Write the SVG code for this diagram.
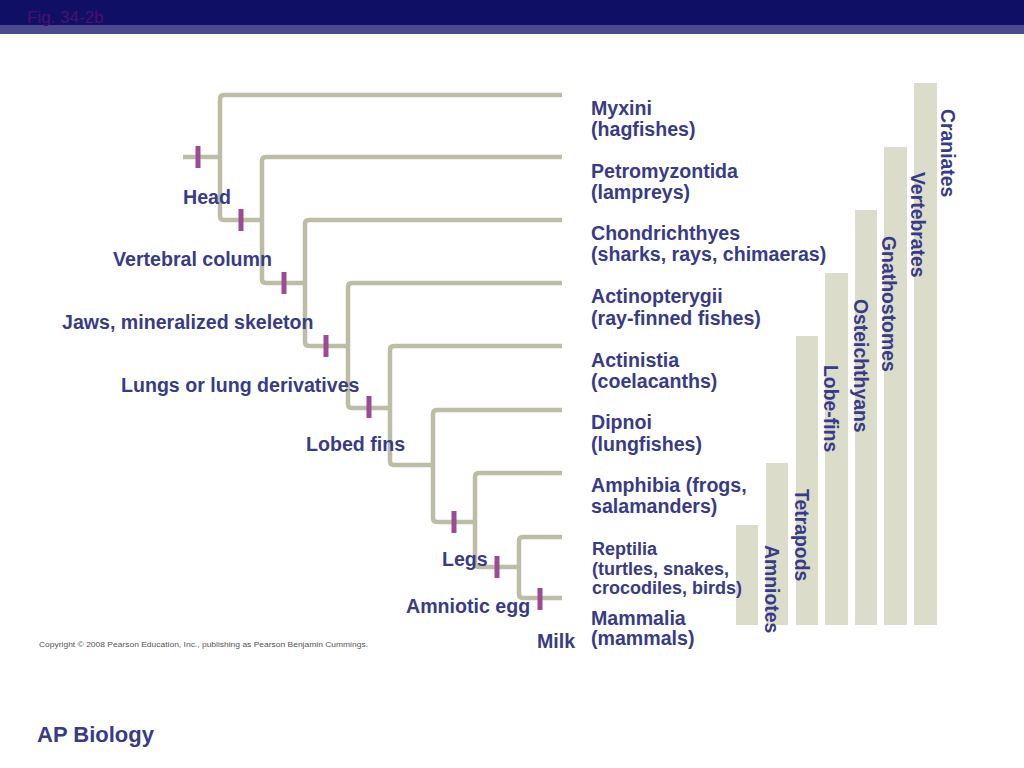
<svg xmlns="http://www.w3.org/2000/svg" width="1024" height="768" viewBox="0 0 1024 768">
<style>
.br{fill:none;stroke:#bdbda5;stroke-width:4.5;stroke-linecap:butt;stroke-linejoin:round}
.tk{stroke:#9b4a93;stroke-width:5}
.bar{fill:#dcdccb}
.t{font-family:"Liberation Sans",Arial,sans-serif;font-weight:bold;font-size:19.6px;fill:#383b87}
.s{font-size:18px}
.v{font-size:19.4px}
.cp{font-family:"Liberation Sans",Arial,sans-serif;font-size:8px;fill:#555555}
</style>
<rect x="0" y="0" width="1024" height="768" fill="#ffffff"/>
<g id="header">
<rect x="0" y="0" width="1024" height="25" fill="#0f0f66"/>
<rect x="0" y="25" width="1024" height="9" fill="#4b4b8c"/>
<text x="27" y="23" font-family="Liberation Sans, Arial, sans-serif" font-size="17" fill="#4a126e">Fig. 34-2b</text>
</g>
<g id="clade-bars">
<rect class="bar" x="736" y="525" width="22" height="100"/>
<rect class="bar" x="766" y="463" width="22" height="162"/>
<rect class="bar" x="796" y="336" width="22" height="289"/>
<rect class="bar" x="825" y="273" width="23" height="352"/>
<rect class="bar" x="855" y="210" width="22" height="415"/>
<rect class="bar" x="884" y="147" width="23" height="478"/>
<rect class="bar" x="914" y="83" width="23" height="542"/>
</g>
<g id="connectors">
<path class="br" d="M183 157H220"/>
<path class="br" d="M562 95H224Q220 95 220 99V216Q220 220 224 220H262"/>
<path class="br" d="M562 157H266Q262 157 262 161V279Q262 283 266 283H305"/>
<path class="br" d="M562 220H309Q305 220 305 224V342Q305 346 309 346H348"/>
<path class="br" d="M562 283H352Q348 283 348 287V404Q348 408 352 408H390"/>
<path class="br" d="M562 346H394Q390 346 390 350V461Q390 465 394 465H433"/>
<path class="br" d="M562 410H437Q433 410 433 414V518Q433 522 437 522H475"/>
<path class="br" d="M562 473H479Q475 473 475 477V563Q475 567 479 567H519"/>
<path class="br" d="M562 537H523Q519 537 519 541V594Q519 598 523 598H562"/>
</g>
<g id="ticks">
<line class="tk" x1="198" y1="146" x2="198" y2="168"/>
<line class="tk" x1="241" y1="209" x2="241" y2="231"/>
<line class="tk" x1="284" y1="272" x2="284" y2="294"/>
<line class="tk" x1="326" y1="335" x2="326" y2="357"/>
<line class="tk" x1="369" y1="396" x2="369" y2="418"/>
<line class="tk" x1="454" y1="511" x2="454" y2="533"/>
<line class="tk" x1="497" y1="556" x2="497" y2="578"/>
<line class="tk" x1="540" y1="588" x2="540" y2="610"/>
</g>
<g id="character-labels">
<text class="t" x="183" y="204">Head</text>
<text class="t" x="113" y="266">Vertebral column</text>
<text class="t" x="62" y="329">Jaws, mineralized skeleton</text>
<text class="t" x="121" y="392">Lungs or lung derivatives</text>
<text class="t" x="306" y="451">Lobed fins</text>
<text class="t" x="442" y="566">Legs</text>
<text class="t" x="406" y="613">Amniotic egg</text>
<text class="t" x="537" y="648">Milk</text>
</g>
<g id="taxon-myxini"><text class="t" x="591" y="115">Myxini</text><text class="t" x="591" y="136">(hagfishes)</text></g>
<g id="taxon-petromyzontida"><text class="t" x="591" y="178">Petromyzontida</text><text class="t" x="591" y="199">(lampreys)</text></g>
<g id="taxon-chondrichthyes"><text class="t" x="591" y="240">Chondrichthyes</text><text class="t" x="591" y="261">(sharks, rays, chimaeras)</text></g>
<g id="taxon-actinopterygii"><text class="t" x="591" y="303">Actinopterygii</text><text class="t" x="591" y="325">(ray-finned fishes)</text></g>
<g id="taxon-actinistia"><text class="t" x="591" y="367">Actinistia</text><text class="t" x="591" y="388">(coelacanths)</text></g>
<g id="taxon-dipnoi"><text class="t" x="591" y="429">Dipnoi</text><text class="t" x="591" y="451">(lungfishes)</text></g>
<g id="taxon-amphibia"><text class="t" x="591" y="492">Amphibia (frogs,</text><text class="t" x="591" y="513">salamanders)</text></g>
<g id="taxon-reptilia"><text class="t s" x="592" y="555">Reptilia</text><text class="t s" x="592" y="575">(turtles, snakes,</text><text class="t s" x="592" y="594">crocodiles, birds)</text></g>
<g id="taxon-mammalia"><text class="t" x="591" y="625">Mammalia</text><text class="t" x="591" y="645">(mammals)</text></g>
<g id="clade-labels">
<text class="t v" transform="translate(765,545) rotate(90)">Amniotes</text>
<text class="t v" transform="translate(795,489) rotate(90)">Tetrapods</text>
<text class="t v" transform="translate(824,365) rotate(90)">Lobe-fins</text>
<text class="t v" transform="translate(854,299) rotate(90)">Osteichthyans</text>
<text class="t v" transform="translate(882,236) rotate(90)">Gnathostomes</text>
<text class="t v" transform="translate(911,172) rotate(90)">Vertebrates</text>
<text class="t v" transform="translate(941,109) rotate(90)">Craniates</text>
</g>
<g id="footer">
<text class="cp" x="39" y="647" textLength="329" lengthAdjust="spacingAndGlyphs">Copyright © 2008 Pearson Education, Inc., publishing as Pearson Benjamin Cummings.</text>
<text class="t" x="37" y="742" style="font-size:22px">AP Biology</text>
</g>
</svg>
